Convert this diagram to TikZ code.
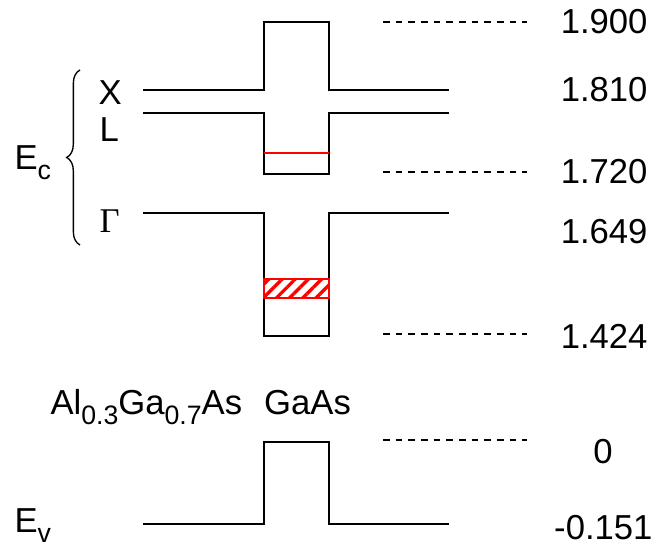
\documentclass[tikz,border=0pt]{standalone}
\usepackage{fontspec}
\setmainfont{Liberation Sans}
\newfontfamily\greekserif{Liberation Serif}
\usetikzlibrary{decorations.pathreplacing,patterns.meta}
\tikzset{every picture/.style={line width=0.75pt}}
\newcommand{\lowsub}[1]{\raisebox{-7pt}{\fontsize{20}{22}\selectfont #1}}

\begin{document}
\begin{tikzpicture}[x=0.75pt,y=0.75pt,yscale=-1,xscale=1,
  band/.style={line width=1.5pt},
  level/.style={line width=1pt,dash pattern=on 5pt off 4.5pt},
  lbl/.style={inner sep=0.75pt,font=\fontsize{26}{30}\selectfont}]
\useasboundingbox (0,0) rectangle (658,548);
% Band edges
\draw[band] (143,90) -- (264,90) -- (264,22) -- (329,22) -- (329,90) -- (449,90);
\draw[band] (143,113) -- (264,113) -- (264,174) -- (329,174) -- (329,113) -- (449,113);
\draw[band] (143,213) -- (264,213) -- (264,336) -- (329,336) -- (329,213) -- (449,213);
\draw[band] (143,524) -- (264,524) -- (264,442) -- (329,442) -- (329,524) -- (449,524);
% Confined states
\draw[red,line width=1.5pt] (264,153) -- (329,153);
\draw[red,line width=1.5pt,pattern={Lines[angle=45,distance=7pt,line width=2.5pt]},pattern color=red] (264,279) rectangle (329,298);
% Reference levels
\draw[level] (383,22) -- (527,22);
\draw[level] (383,172) -- (527,172);
\draw[level] (383,334) -- (527,334);
\draw[level] (383,440) -- (527,440);
% Energy values
\node[lbl,anchor=east] (v1900) at (649,22) {1.900};
\node[lbl,anchor=east] (v1810) at (649,90) {1.810};
\node[lbl,anchor=east] (v1720) at (649,172) {1.720};
\node[lbl,anchor=east] (v1649) at (649,232) {1.649};
\node[lbl,anchor=east] (v1424) at (649,336) {1.424};
\node[lbl] (v0) at (603,452) {0};
\node[lbl,anchor=east] (vm151) at (654,528) {-0.151};
% Valley labels
\draw[line width=1pt,decorate,decoration={brace,amplitude=10pt}] (80,245) -- (80,70);
\node[lbl,anchor=base west] (Ec) at (13,170) {E\lowsub{c}};
\node[lbl,anchor=base west] (X) at (97,105) {X};
\node[lbl,anchor=base west] (L) at (98,142) {L};
\node[lbl,anchor=base west] (G) at (98,233) {\greekserif Γ};
\node[lbl,anchor=base west] (Ev) at (13,533) {E\lowsub{v}};
\node[lbl,anchor=base west] (mat) at (49,415) {Al\lowsub{0.3}Ga\lowsub{0.7}As\hspace{16.5pt}GaAs};
\end{tikzpicture}
\end{document}
